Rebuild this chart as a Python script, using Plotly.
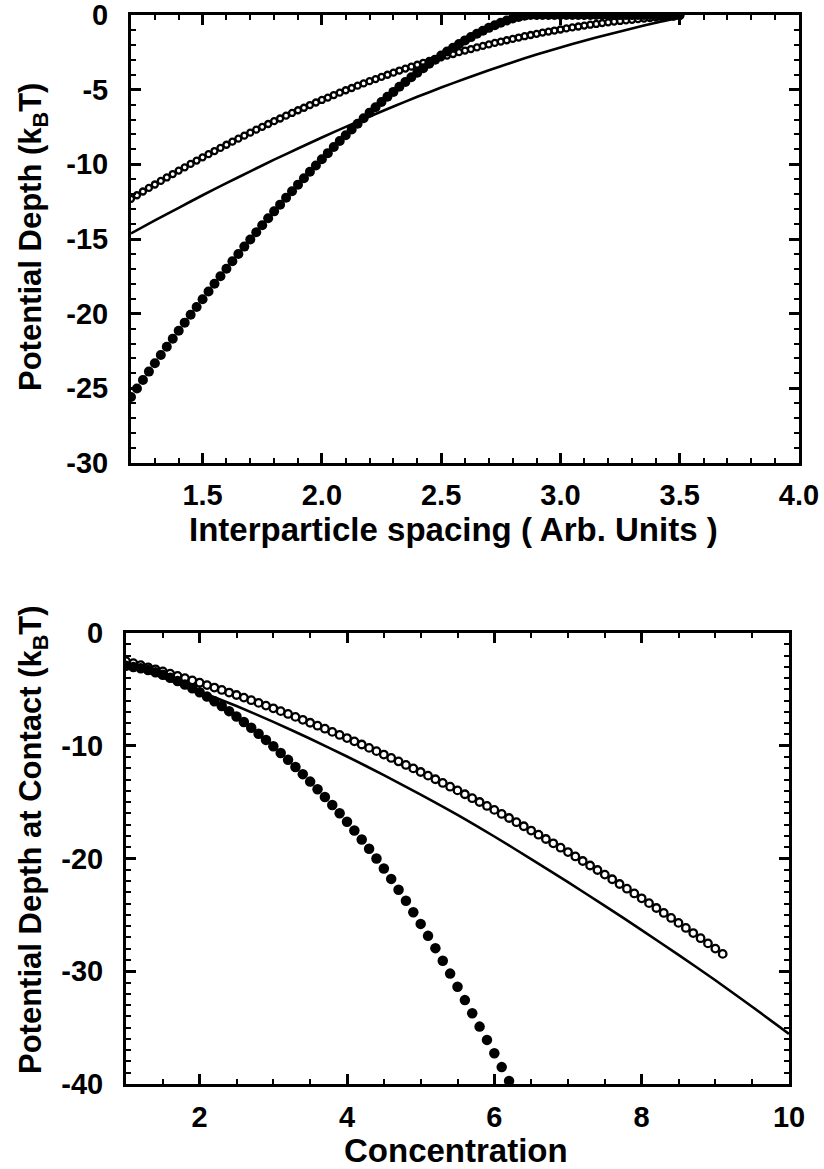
import numpy as np
import plotly.graph_objects as go

# ---------------- data: top panel (interparticle spacing) ----------------
spacing_markers = np.round(np.arange(1.2, 3.5001, 0.025), 3)

depth_open_top = [
    -12.31, -12.07, -11.82, -11.58, -11.35, -11.11, -10.88, -10.65, -10.42, -10.20,
    -9.97, -9.75, -9.53, -9.32, -9.11, -8.90, -8.69, -8.48, -8.28, -8.08,
    -7.88, -7.68, -7.49, -7.30, -7.11, -6.93, -6.74, -6.56, -6.38, -6.21,
    -6.03, -5.86, -5.69, -5.53, -5.36, -5.20, -5.04, -4.89, -4.73, -4.58,
    -4.43, -4.29, -4.14, -4.00, -3.86, -3.72, -3.59, -3.46, -3.33, -3.20,
    -3.08, -2.96, -2.84, -2.72, -2.61, -2.49, -2.38, -2.28, -2.17, -2.07,
    -1.97, -1.87, -1.78, -1.69, -1.60, -1.51, -1.42, -1.34, -1.26, -1.18,
    -1.11, -1.04, -0.97, -0.90, -0.83, -0.77, -0.71, -0.65, -0.60, -0.54,
    -0.49, -0.44, -0.40, -0.36, -0.32, -0.28, -0.24, -0.21, -0.18, -0.15,
    -0.12, -0.10, -0.08,
]

depth_filled_top = [
    -25.58, -25.01, -24.44, -23.88, -23.32, -22.77, -22.22, -21.68, -21.14, -20.60,
    -20.07, -19.55, -19.03, -18.51, -18.00, -17.49, -16.99, -16.49, -16.00, -15.51,
    -15.03, -14.55, -14.08, -13.61, -13.15, -12.70, -12.24, -11.80, -11.36, -10.93,
    -10.50, -10.08, -9.66, -9.25, -8.84, -8.44, -8.05, -7.66, -7.28, -6.91,
    -6.54, -6.18, -5.83, -5.48, -5.15, -4.81, -4.49, -4.17, -3.86, -3.56,
    -3.27, -2.99, -2.71, -2.44, -2.19, -1.94, -1.70, -1.48, -1.26, -1.06,
    -0.86, -0.69, -0.52, -0.37, -0.24, -0.13, -0.05, 0.00,
    0.00, 0.00, 0.00, 0.00, 0.00, 0.00, 0.00, 0.00, 0.00, 0.00,
    0.00, 0.00, 0.00, 0.00, 0.00, 0.00, 0.00, 0.00, 0.00, 0.00,
    0.00, 0.00, 0.00, 0.00, 0.00,
]

spacing_line = [1.2, 1.3, 1.4, 1.5, 1.6, 1.7, 1.8, 1.9, 2.0, 2.1, 2.2, 2.3,
                2.4, 2.5, 2.6, 2.7, 2.8, 2.9, 3.0, 3.1, 3.2, 3.3, 3.4, 3.5]
depth_line_top = [-14.63, -13.76, -12.91, -12.07, -11.26, -10.47, -9.69, -8.94,
                  -8.20, -7.49, -6.80, -6.13, -5.48, -4.86, -4.27, -3.70, -3.16,
                  -2.65, -2.17, -1.72, -1.31, -0.90, -0.52, -0.18]

top_xticks = [1.5, 2.0, 2.5, 3.0, 3.5, 4.0]
top_xticklabels = ["1.5", "2.0", "2.5", "3.0", "3.5", "4.0"]
top_yticks = [0, -5, -10, -15, -20, -25, -30]

# ---------------- data: bottom panel (concentration) ----------------
conc_open = np.round(np.arange(1.0, 9.1001, 0.1), 2)
contact_open = [
    -2.50, -2.68, -2.85, -3.04, -3.22, -3.41, -3.60, -3.80, -4.00, -4.20,
    -4.41, -4.62, -4.84, -5.05, -5.28, -5.50, -5.73, -5.96, -6.20, -6.44,
    -6.68, -6.93, -7.18, -7.44, -7.70, -7.96, -8.22, -8.49, -8.77, -9.04,
    -9.32, -9.61, -9.89, -10.19, -10.48, -10.78, -11.08, -11.39, -11.70, -12.01,
    -12.33, -12.65, -12.97, -13.30, -13.63, -13.96, -14.30, -14.65, -14.99, -15.34,
    -15.69, -16.05, -16.41, -16.78, -17.14, -17.52, -17.89, -18.27, -18.65, -19.04,
    -19.43, -19.82, -20.22, -20.62, -21.02, -21.43, -21.84, -22.26, -22.68, -23.10,
    -23.53, -23.96, -24.39, -24.83, -25.27, -25.71, -26.16, -26.61, -27.07, -27.53,
    -27.99, -28.46,
]

conc_filled = np.round(np.arange(1.0, 6.2001, 0.1), 2)
contact_filled = [
    -2.90, -3.01, -3.13, -3.29, -3.48, -3.71, -3.97, -4.26, -4.57, -4.90,
    -5.26, -5.64, -6.05, -6.48, -6.93, -7.40, -7.89, -8.40, -8.93, -9.48,
    -10.05, -10.64, -11.25, -11.88, -12.52, -13.18, -13.86, -14.55, -15.26, -15.99,
    -16.74, -17.51, -18.31, -19.14, -20.00, -20.89, -21.81, -22.77, -23.75, -24.76,
    -25.80, -26.86, -27.95, -29.07, -30.21, -31.38, -32.56, -33.73, -34.91, -36.09,
    -37.28, -38.50, -39.73,
]

conc_line = [1.0, 1.5, 2.0, 2.5, 3.0, 3.5, 4.0, 4.5, 5.0, 5.5,
             6.0, 6.5, 7.0, 7.5, 8.0, 8.5, 9.0, 9.5, 10.0]
contact_line = [-2.8, -3.95, -5.18, -6.48, -7.88, -9.38, -10.95, -12.6, -14.33, -16.13,
                -18.05, -20.05, -22.1, -24.2, -26.35, -28.55, -30.8, -33.15, -35.55]

bot_xticks = [2, 4, 6, 8, 10]
bot_yticks = [0, -10, -20, -30, -40]

# ---------------- figure ----------------
W, H = 824, 1169
FONT = "Liberation Sans, Arial, Helvetica, sans-serif"

fig = go.Figure()

# top panel
fig.add_trace(go.Scatter(x=spacing_line, y=depth_line_top, mode="lines",
                         line=dict(color="black", width=2.6, shape="spline", smoothing=0.6),
                         xaxis="x", yaxis="y", showlegend=False))
fig.add_trace(go.Scatter(x=spacing_markers, y=depth_open_top, mode="markers",
                         marker=dict(symbol="circle-open", size=6, color="black",
                                     line=dict(width=2.3, color="black")),
                         xaxis="x", yaxis="y", showlegend=False))
fig.add_trace(go.Scatter(x=spacing_markers, y=depth_filled_top, mode="markers",
                         marker=dict(symbol="circle", size=10, color="black",
                                     line=dict(width=0)),
                         xaxis="x", yaxis="y", showlegend=False))

# bottom panel
fig.add_trace(go.Scatter(x=conc_line, y=contact_line, mode="lines",
                         line=dict(color="black", width=2.6, shape="spline", smoothing=0.6),
                         xaxis="x2", yaxis="y2", showlegend=False))
fig.add_trace(go.Scatter(x=conc_open, y=contact_open, mode="markers",
                         marker=dict(symbol="circle-open", size=7.5, color="black",
                                     line=dict(width=2.3, color="black")),
                         xaxis="x2", yaxis="y2", showlegend=False))
fig.add_trace(go.Scatter(x=conc_filled, y=contact_filled, mode="markers",
                         marker=dict(symbol="circle", size=10.5, color="black",
                                     line=dict(width=0)),
                         xaxis="x2", yaxis="y2", showlegend=False))

tickfont = dict(family=FONT, size=29, color="black", weight="bold")


def axis_style(**kw):
    d = dict(showline=True, linecolor="black", linewidth=3, mirror="ticks",
             ticks="inside", ticklen=10, tickwidth=2.5, tickcolor="black",
             showgrid=False, zeroline=False, tickfont=tickfont,
             tickmode="array", automargin=False, ticklabeloverflow="allow")
    d.update(kw)
    return d


def px_x(p):
    return p / W


def px_y(p):
    return 1 - p / H


fig.update_layout(
    width=W, height=H, autosize=False,
    margin=dict(l=0, r=0, t=0, b=0, pad=0),
    paper_bgcolor="white", plot_bgcolor="white",
    xaxis=axis_style(domain=[px_x(131), px_x(799)], range=[1.2, 4.0], anchor="y",
                     tickvals=top_xticks, ticktext=top_xticklabels,
                     ticklabelstandoff=4,
                     minor=dict(ticks="inside", ticklen=5, tickwidth=2,
                                tickcolor="black", dtick=0.1, tick0=0, showgrid=False)),
    yaxis=axis_style(domain=[px_y(463), px_y(15)], range=[-30, 0], anchor="x",
                     tickvals=top_yticks, ticktext=[str(v) for v in top_yticks],
                     ticklabelstandoff=14,
                     minor=dict(ticks="inside", ticklen=5, tickwidth=2,
                                tickcolor="black", dtick=1, tick0=0, showgrid=False)),
    xaxis2=axis_style(domain=[px_x(126), px_x(789)], range=[1, 10], anchor="y2",
                      tickvals=bot_xticks, ticktext=[str(v) for v in bot_xticks],
                      ticklabelstandoff=5,
                      minor=dict(ticks="inside", ticklen=5, tickwidth=2,
                                 tickcolor="black", dtick=0.5, tick0=0, showgrid=False)),
    yaxis2=axis_style(domain=[px_y(1084), px_y(633)], range=[-40, 0], anchor="x2",
                      tickvals=bot_yticks, ticktext=[str(v) for v in bot_yticks],
                      ticklabelstandoff=14,
                      minor=dict(ticks="inside", ticklen=5, tickwidth=2,
                                 tickcolor="black", dtick=1, tick0=0, showgrid=False)),
)

title_font = dict(family=FONT, size=33, color="black", weight="bold")
ytitle_font = dict(family=FONT, size=31, color="black", weight="bold")

fig.add_annotation(text="Interparticle spacing ( Arb. Units )", xref="paper", yref="paper",
                   x=px_x(453), y=px_y(529), xanchor="center", yanchor="middle",
                   showarrow=False, font=title_font)
fig.add_annotation(text="Potential Depth (k<sub>B</sub>T)", xref="paper", yref="paper",
                   x=px_x(33), y=px_y(237), xanchor="center", yanchor="middle",
                   textangle=-90, showarrow=False, font=ytitle_font)
fig.add_annotation(text="Concentration", xref="paper", yref="paper",
                   x=px_x(456), y=px_y(1150), xanchor="center", yanchor="middle",
                   showarrow=False, font=dict(family=FONT, size=33, color="black", weight="bold"))
fig.add_annotation(text="Potential Depth at Contact (k<sub>B</sub>T)", xref="paper", yref="paper",
                   x=px_x(33), y=px_y(840), xanchor="center", yanchor="middle",
                   textangle=-90, showarrow=False, font=ytitle_font)

fig.write_html("out.html")
